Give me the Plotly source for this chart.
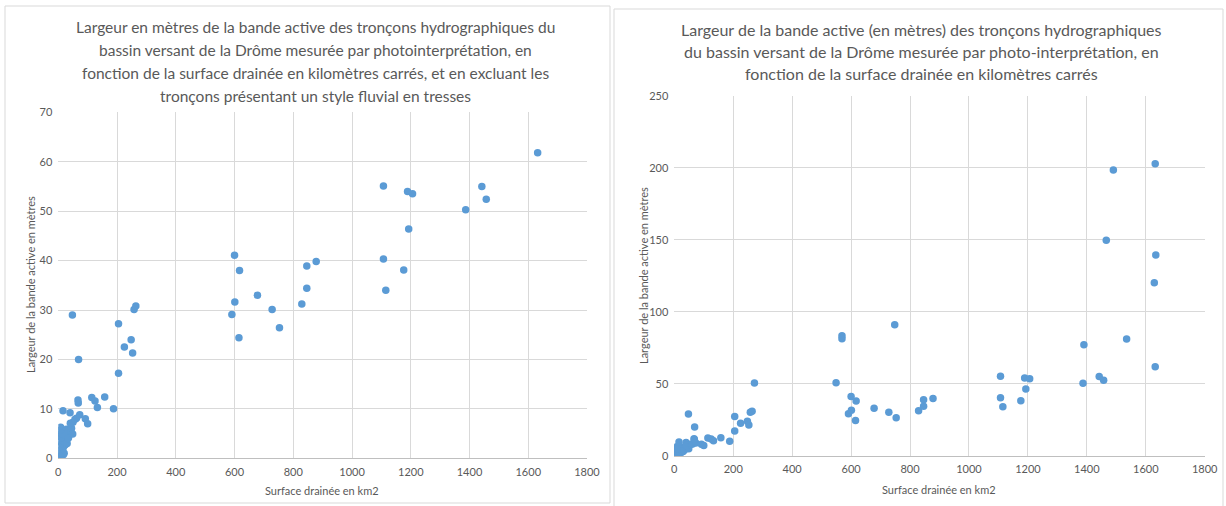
import plotly.graph_objects as go

# Tronçons sans style en tresses (surface drainée km2, largeur m)
surface_sans_tresses = [1, 0, 17, 15, 6, 17, 6, 23, 11, 0, 17, 28, 35, 3, 0, 0, 8, 23, 28,
                        10, 20, 5, 12, 24, 30, 33,
                        16, 40, 43, 45, 49, 50, 41, 57, 62, 73, 92, 100, 67, 68, 48, 69,
                        114, 125, 133, 158, 188, 205, 205, 225, 248, 253, 258, 264,
                        591, 600, 601, 617, 615, 678, 728, 753, 829, 846, 846, 878,
                        1107, 1107, 1115, 1176, 1189, 1193, 1206, 1387, 1442, 1457, 1632]
largeur_sans_tresses = [0.2, 0.9, 0.7, 1.3, 1.7, 2.2, 2.4, 2.7, 3.0, 3.4, 3.5, 3.8, 4.2, 4.4, 4.9, 5.6, 6.3, 5.6, 5.9,
                        4.2, 1.0, 0.4, 5.0, 4.6, 3.0, 4.0,
                        9.6, 9.2, 5.4, 6.1, 4.9, 7.3, 7.1, 7.9, 8.1, 8.8, 8.0, 7.0, 11.8, 11.2, 29.0, 20.0,
                        12.3, 11.6, 10.3, 12.4, 10.0, 17.2, 27.2, 22.5, 24.0, 21.3, 30.1, 30.8,
                        29.1, 41.1, 31.6, 38.0, 24.4, 33.0, 30.1, 26.4, 31.2, 34.4, 38.9, 39.8,
                        55.1, 40.3, 34.0, 38.1, 54.0, 46.4, 53.5, 50.3, 55.0, 52.4, 61.8]

# Tronçons en tresses (ajoutés dans le second graphique)
surface_tresses = [272, 549, 569, 569, 748, 1390, 1466, 1490, 1535, 1632, 1634, 1629]
largeur_tresses = [50.5, 50.7, 83.3, 81.3, 91.0, 77.0, 149.6, 198.4, 81.0, 202.8, 139.4, 120.1]

titre_gauche = ["Largeur en mètres de la bande active des tronçons hydrographiques du",
                "bassin versant de la Drôme mesurée par photointerprétation, en",
                "fonction de la surface drainée en kilomètres carrés, et en excluant les",
                "tronçons présentant un style fluvial en tresses"]
titre_droite = ["Largeur de la bande active (en mètres) des tronçons hydrographiques",
                "du bassin versant de la Drôme mesurée par photo-interprétation, en",
                "fonction de la surface drainée en kilomètres carrés"]
titre_x = "Surface drainée en km2"
titre_y = "Largeur de la bande active en mètres"

W, H = 1226, 506
FONT = "Lato"
GRAY = "#595959"
BLUE = "#5b9bd5"
GRID = "#d9d9d9"

def px(x):
    return x / W

def py(y):
    return (H - y) / H

fig = go.Figure()
fig.add_trace(go.Scatter(x=surface_sans_tresses, y=largeur_sans_tresses, mode="markers",
                         marker=dict(color=BLUE, size=7.5), xaxis="x", yaxis="y", showlegend=False))
fig.add_trace(go.Scatter(x=surface_sans_tresses + surface_tresses,
                         y=largeur_sans_tresses + largeur_tresses, mode="markers",
                         marker=dict(color=BLUE, size=7.5), xaxis="x2", yaxis="y2", showlegend=False))

axis_common = dict(showgrid=True, gridcolor=GRID, gridwidth=1, zeroline=False, automargin=False,
                   tickfont=dict(family=FONT, size=11, color=GRAY), ticks="", fixedrange=True)

fig.update_layout(
    width=W, height=H, margin=dict(l=0, r=0, t=0, b=0, pad=0, autoexpand=False),
    paper_bgcolor="white", plot_bgcolor="white",
    xaxis=dict(domain=[px(58.3), px(587)], range=[0, 1800], dtick=200, anchor="y",
               showline=True, linecolor="#bfbfbf", ticklabelstandoff=3, **axis_common),
    yaxis=dict(domain=[py(458.3), py(112.3)], range=[0, 70], dtick=10, anchor="x",
               showline=False, ticklabelstandoff=5, **axis_common),
    xaxis2=dict(domain=[px(674.3), px(1204.7)], range=[0, 1800], dtick=200, anchor="y2",
                showline=True, linecolor="#bfbfbf", ticklabelstandoff=3, **axis_common),
    yaxis2=dict(domain=[py(455.7), py(95.7)], range=[0, 250], dtick=50, anchor="x2",
                showline=False, ticklabelstandoff=5, **axis_common),
)

shapes = [
    dict(type="rect", xref="paper", yref="paper", x0=px(5), x1=px(610), y0=py(503), y1=py(6),
         line=dict(color=GRID, width=1), fillcolor="rgba(0,0,0,0)", layer="below"),
    dict(type="rect", xref="paper", yref="paper", x0=px(614), x1=px(1223), y0=py(512), y1=py(9),
         line=dict(color=GRID, width=1), fillcolor="rgba(0,0,0,0)", layer="below"),
]
fig.update_layout(shapes=shapes)

ann = []
for i, line in enumerate(titre_gauche):
    ann.append(dict(text=line, x=px(315), y=py(27 + i * 23), xref="paper", yref="paper",
                    xanchor="center", yanchor="middle", showarrow=False,
                    font=dict(family=FONT, size=15.5, color=GRAY)))
for i, line in enumerate(titre_droite):
    ann.append(dict(text=line, x=px(921), y=py(29.5 + i * 22), xref="paper", yref="paper",
                    xanchor="center", yanchor="middle", showarrow=False,
                    font=dict(family=FONT, size=16, color=GRAY)))
ann.append(dict(text=titre_x, x=px(322), y=py(490), xref="paper", yref="paper",
                xanchor="center", yanchor="middle", showarrow=False,
                font=dict(family=FONT, size=11, color=GRAY)))
ann.append(dict(text=titre_x, x=px(939), y=py(489), xref="paper", yref="paper",
                xanchor="center", yanchor="middle", showarrow=False,
                font=dict(family=FONT, size=11, color=GRAY)))
ann.append(dict(text=titre_y, x=px(30), y=py(285), xref="paper", yref="paper", textangle=-90,
                xanchor="center", yanchor="middle", showarrow=False,
                font=dict(family=FONT, size=11, color=GRAY)))
ann.append(dict(text=titre_y, x=px(643), y=py(276), xref="paper", yref="paper", textangle=-90,
                xanchor="center", yanchor="middle", showarrow=False,
                font=dict(family=FONT, size=11, color=GRAY)))
fig.update_layout(annotations=ann)

fig.write_html("out.html", config={"displayModeBar": False},
               post_script="document.body.style.margin='0';document.body.style.overflow='hidden';")
